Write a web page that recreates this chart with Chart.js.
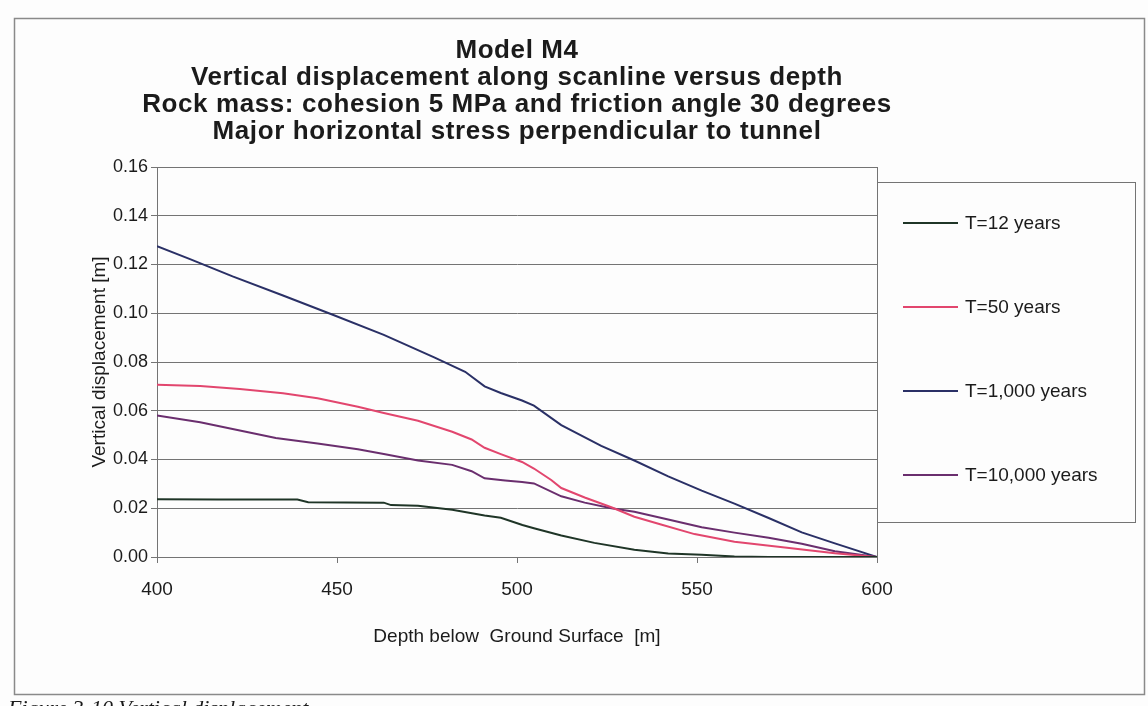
<!DOCTYPE html>
<html lang="en">
<head>
  <meta charset="UTF-8" />
  <title>Model M4 - vertical displacement vs depth</title>
  <script src="https://cdn.jsdelivr.net/npm/chart.js@4.4.0/dist/chart.umd.min.js"></script>
  <style>
    html, body { margin: 0; padding: 0; background: #fdfdfd; }
    #wrap { width: 1148px; height: 706px; }
  </style>
</head>
<body>
  <div id="wrap"><canvas id="dispChart" width="1148" height="706"></canvas></div>

  <script>
    // --- data ---
    const titleLines = [
      "Model M4",
      "Vertical displacement along scanline versus depth",
      "Rock mass: cohesion 5 MPa and friction angle 30 degrees",
      "Major horizontal stress perpendicular to tunnel"
    ];
    const xTitle = "Depth below  Ground Surface  [m]";
    const yTitle = "Vertical displacement [m]";
    const caption = "Figure 3-10 Vertical displacement";

    const xTicks = [400, 450, 500, 550, 600];
    const yTickLabels = ["0.00", "0.02", "0.04", "0.06", "0.08", "0.10", "0.12", "0.14", "0.16"];

    const seriesNames = ["T=12 years", "T=50 years", "T=1,000 years", "T=10,000 years"];
    const seriesColors = ["#1f3527", "#e2466e", "#2a3066", "#6a2e6e"];

    const depth12 = [400, 417, 439, 442, 463, 465, 472.5, 482, 491, 495.5, 501.5, 504.7, 512.3, 521.5, 532.6, 542, 551.3, 560.4, 570, 600];
    const disp12  = [0.0237, 0.0236, 0.0236, 0.0225, 0.0223, 0.0213, 0.0210, 0.0194, 0.0170, 0.0161, 0.0131, 0.0118, 0.0088, 0.0058, 0.0030, 0.0014, 0.0009, 0.0002, 0, 0];

    const depth50 = [400, 412, 423, 435, 444.6, 455.8, 463, 472.5, 482, 487.4, 491, 495.5, 501.4, 504.7, 509.5, 512.3, 518.8, 526.2, 532.6, 540, 549.3, 560.4, 574.4, 588.3, 600];
    const disp50  = [0.0707, 0.0702, 0.0689, 0.0672, 0.0651, 0.0616, 0.0591, 0.0559, 0.0514, 0.0482, 0.0448, 0.0422, 0.0390, 0.0363, 0.0316, 0.0283, 0.0244, 0.0204, 0.0165, 0.0133, 0.0094, 0.0063, 0.0039, 0.0015, 0];

    const depth1000 = [400, 409, 421, 435, 449, 463, 477, 485.6, 491, 495.5, 501.4, 504.7, 512.3, 523.4, 532.6, 542, 551.3, 560.4, 569.9, 579.1, 588.3, 600];
    const disp1000  = [0.1275, 0.1223, 0.1151, 0.1073, 0.0993, 0.0911, 0.0819, 0.0760, 0.0700, 0.0673, 0.0642, 0.0621, 0.0541, 0.0456, 0.0396, 0.0331, 0.0272, 0.0219, 0.0160, 0.0101, 0.0056, 0];

    const depth10000 = [400, 412, 421, 433, 444.6, 455.8, 463, 472.5, 482, 487.4, 491, 496.7, 501.4, 504.7, 512.3, 518.8, 526.2, 532.6, 542, 551.3, 560.4, 569.9, 579.1, 588.3, 600];
    const disp10000  = [0.0581, 0.0553, 0.0525, 0.0488, 0.0466, 0.0442, 0.0423, 0.0396, 0.0378, 0.0352, 0.0323, 0.0314, 0.0308, 0.0302, 0.0249, 0.0223, 0.0200, 0.0186, 0.0154, 0.0122, 0.0100, 0.0079, 0.0054, 0.0024, 0];

    const depths = [depth12, depth50, depth1000, depth10000];
    const disps  = [disp12, disp50, disp1000, disp10000];

    const FONT = "'Liberation Sans', Arial, sans-serif";
    const TEXT = "#1b1b1b";
    const GRID = "#747474";

    const datasets = seriesNames.map((name, i) => ({
      label: name,
      data: depths[i].map((d, j) => ({ x: d, y: disps[i][j] })),
      borderColor: seriesColors[i],
      backgroundColor: seriesColors[i],
      borderWidth: 2,
      pointRadius: 0,
      tension: 0,
      fill: false
    }));

    // page frame, title block, plot border, boxed legend
    const decorations = {
      id: "decorations",
      beforeDraw(chart) {
        const c = chart.ctx;
        c.save();
        c.fillStyle = "#fdfdfd";
        c.fillRect(0, 0, chart.width, chart.height);
        c.strokeStyle = "#8a8a8a";
        c.lineWidth = 1.5;
        c.strokeRect(14.5, 18.5, 1130, 676);
        c.restore();
      },
      beforeDatasetsDraw(chart) {
        const { ctx: c, chartArea: a } = chart;
        c.save();
        c.strokeStyle = GRID;
        c.lineWidth = 1;
        c.strokeRect(a.left + 0.5, a.top + 0.5, a.right - a.left, a.bottom - a.top);
        c.restore();
      },
      afterDraw(chart) {
        const { ctx: c, chartArea: a } = chart;
        c.save();
        // title
        c.fillStyle = TEXT;
        c.textAlign = "center";
        c.textBaseline = "middle";
        c.font = "bold 26px " + FONT;
        if ("letterSpacing" in c) c.letterSpacing = "0.6px";
        const cx = (a.left + a.right) / 2;
        titleLines.forEach((t, i) => c.fillText(t, cx, 51 + i * 27));
        if ("letterSpacing" in c) c.letterSpacing = "0px";

        // legend box
        const lx = a.right, ly = 182, lw = 258, lh = 340;
        c.strokeStyle = GRID;
        c.lineWidth = 1;
        c.strokeRect(lx + 0.5, ly + 0.5, lw, lh);
        c.font = "19px " + FONT;
        c.textAlign = "left";
        chart.data.datasets.forEach((ds, i) => {
          const y = ly + 41 + i * 84;
          c.strokeStyle = ds.borderColor;
          c.lineWidth = 2;
          c.beginPath();
          c.moveTo(lx + 26, y);
          c.lineTo(lx + 81, y);
          c.stroke();
          c.fillStyle = TEXT;
          c.fillText(ds.label, lx + 88, y + 1);
        });

        // caption cut by the page edge
        c.font = "italic 22px 'Liberation Serif', 'Times New Roman', serif";
        c.textBaseline = "top";
        c.fillText(caption, 8, 698);
        c.restore();
      }
    };

    new Chart(document.getElementById("dispChart"), {
      type: "line",
      data: { datasets },
      plugins: [decorations],
      options: {
        responsive: false,
        animation: false,
        layout: { padding: { left: 0, right: 271, top: 167, bottom: 0 } },
        plugins: {
          legend: { display: false },
          title: { display: false },
          tooltip: { enabled: false }
        },
        scales: {
          x: {
            type: "linear",
            min: xTicks[0],
            max: xTicks[xTicks.length - 1],
            afterBuildTicks: s => { s.ticks = xTicks.map(v => ({ value: v })); },
            afterFit: s => { s.height = 149; },
            grid: { drawOnChartArea: false, color: GRID, tickLength: 6 },
            border: { color: GRID, width: 1 },
            ticks: {
              color: TEXT,
              padding: 15,
              maxRotation: 0,
              font: { family: FONT, size: 19 }
            },
            title: {
              display: true,
              text: xTitle,
              color: TEXT,
              font: { family: FONT, size: 19 },
              padding: { top: 0, bottom: 58 }
            }
          },
          y: {
            min: 0,
            max: 0.16,
            afterBuildTicks: s => { s.ticks = yTickLabels.map(t => ({ value: parseFloat(t) })); },
            afterFit: s => { s.width = 157; },
            grid: { color: GRID, lineWidth: 1, tickLength: 6 },
            border: { color: GRID, width: 1 },
            ticks: {
              color: TEXT,
              padding: 3,
              font: { family: FONT, size: 18 },
              callback: (v, i) => yTickLabels[i]
            },
            title: {
              display: true,
              text: yTitle,
              color: TEXT,
              font: { family: FONT, size: 19 },
              padding: { top: 88, bottom: 0 }
            }
          }
        }
      }
    });
  </script>
</body>
</html>
